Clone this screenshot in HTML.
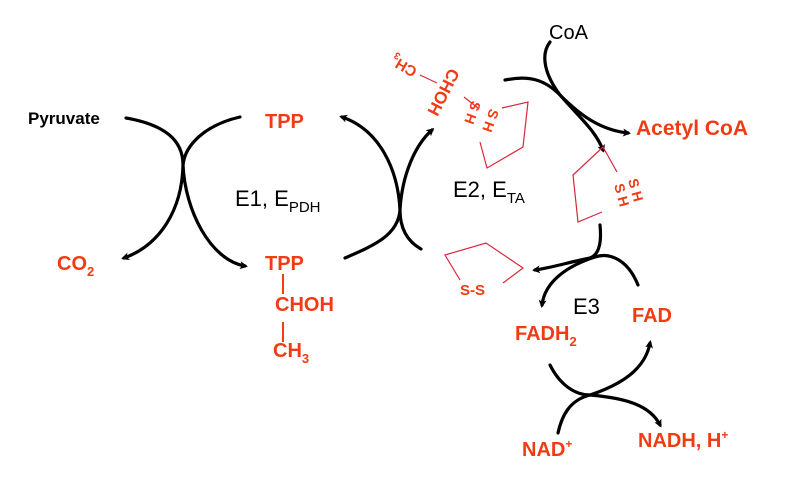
<!DOCTYPE html>
<html><head><style>
html,body{margin:0;padding:0;background:#fff;}
svg{display:block;}
text{font-family:"Liberation Sans",Arial,sans-serif;}
.r{fill:#f03c14;font-weight:bold;}
.k{fill:#000;}
.a{fill:none;stroke:#000;stroke-width:3.2;stroke-linecap:round;}
.ring{fill:none;stroke:#d8283c;stroke-width:1.2;}
</style></head><body>
<svg width="800" height="502" viewBox="0 0 800 502" xmlns="http://www.w3.org/2000/svg">
<defs>
<marker id="ah" markerWidth="8" markerHeight="8" refX="5" refY="4" orient="auto" markerUnits="userSpaceOnUse">
<path d="M0,0 L8,4 L0,8 L2,4 Z" fill="#000"/>
</marker>
</defs>

<path class="a" d="M126,118 C165,125 183,140 183,165 C185,210 210,260 245,266" marker-end="url(#ah)"/>
<path class="a" d="M240,117 C205,125 185,145 183,165 C182,210 160,245 124,258" marker-end="url(#ah)"/>
<path class="a" d="M345,258 C375,245 398,235 400,210 C402,175 415,145 432,130" marker-end="url(#ah)"/>
<path class="a" d="M421,249 C405,240 400,225 400,210 C398,170 380,130 342,117" marker-end="url(#ah)"/>
<path class="a" d="M505,80 C530,75 545,80 560,95 C580,115 600,130 628,133" marker-end="url(#ah)"/>
<path class="a" d="M550,42 C540,55 545,75 560,95 C580,118 595,130 603,150" marker-end="url(#ah)"/>
<path class="a" d="M600,225 C602,245 598,255 590,258 C570,262 550,268 535,270" marker-end="url(#ah)"/>
<path class="a" d="M638,285 C628,260 610,252 595,257 C570,265 545,280 542,305" marker-end="url(#ah)"/>
<path class="a" d="M550,365 C560,385 575,395 590,395 C625,398 650,405 660,425" marker-end="url(#ah)"/>
<path class="a" d="M558,433 C562,415 570,400 590,395 C620,385 645,370 650,343" marker-end="url(#ah)"/>

<polyline class="ring" points="502,108 528,102 523,147 487,168 480,142"/>
<line class="ring" x1="464" y1="97" x2="478" y2="108"/>
<line class="ring" x1="420" y1="75" x2="437" y2="83"/>
<polyline class="ring" points="602,212 578,222 573,175 603,147 617,172"/>
<polyline class="ring" points="503,283 523,268 486,243 445,255 460,280"/>

<text x="28" y="124" class="k" font-size="17" font-weight="bold">Pyruvate</text>
<text x="265" y="128" class="r" font-size="20">TPP</text>
<text x="235" y="206" class="k" font-size="22">E1, E<tspan font-size="15" dy="6">PDH</tspan></text>
<text x="57" y="270" class="r" font-size="20">CO<tspan font-size="13" dy="6">2</tspan></text>
<text x="265" y="270" class="r" font-size="20">TPP</text>
<line x1="283" y1="274" x2="283" y2="294" stroke="#f03c14" stroke-width="2"/>
<text x="275" y="311" class="r" font-size="20">CHOH</text>
<line x1="283" y1="322" x2="283" y2="342" stroke="#f03c14" stroke-width="2"/>
<text x="273" y="357" class="r" font-size="20">CH<tspan font-size="13" dy="6">3</tspan></text>

<text x="0" y="0" class="r" font-size="17" transform="translate(455,70) rotate(117) translate(0,6)">CHOH</text>
<text x="0" y="0" class="r" font-size="15" transform="translate(415,74) rotate(-150) translate(0,6)">CH<tspan font-size="10" dy="4">3</tspan></text>
<text x="0" y="0" class="r" font-size="14" transform="translate(490,108) rotate(110)">S H</text>
<text x="0" y="0" class="r" font-size="14" transform="translate(472,100) rotate(110)">S H</text>
<text x="0" y="0" class="r" font-size="14" transform="translate(628,180) rotate(75)">S H</text>
<text x="0" y="0" class="r" font-size="14" transform="translate(614,185) rotate(75)">S H</text>
<text x="460" y="295" class="r" font-size="15">S-S</text>

<text x="453" y="197" class="k" font-size="22">E2, E<tspan font-size="15" dy="6">TA</tspan></text>
<text x="549" y="39" class="k" font-size="20">CoA</text>
<text x="636" y="135" class="r" font-size="21">Acetyl CoA</text>
<text x="573" y="314" class="k" font-size="22">E3</text>
<text x="632" y="322" class="r" font-size="20">FAD</text>
<text x="515" y="340" class="r" font-size="20">FADH<tspan font-size="13" dy="6">2</tspan></text>
<text x="522" y="456" class="r" font-size="20">NAD<tspan font-size="12" dy="-8">+</tspan></text>
<text x="638" y="447" class="r" font-size="20">NADH, H<tspan font-size="12" dy="-8">+</tspan></text>
</svg>
</body></html>
